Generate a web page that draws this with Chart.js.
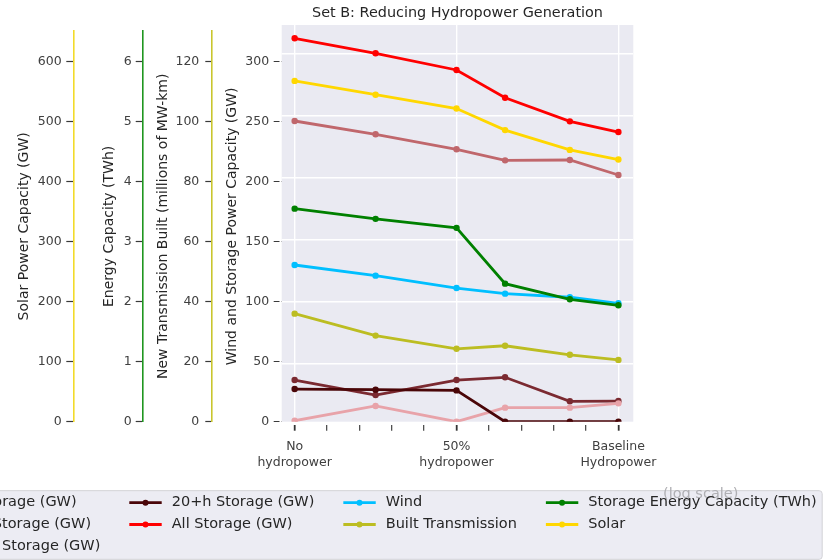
<!DOCTYPE html>
<html>
<head>
<meta charset="utf-8">
<script src="https://cdn.jsdelivr.net/npm/chart.js@4.4.1/dist/chart.umd.min.js"></script>
<style>
  html, body { margin: 0; padding: 0; background: #ffffff; overflow: hidden; }
  #wrap { position: relative; width: 827px; height: 560px; }
</style>
</head>
<body>
<div id="wrap"><canvas id="chart" width="827" height="560"></canvas></div>
<script>
// Share of baseline hydropower generation kept in each scenario (%)
const hydroShare = [0, 25, 50, 65, 85, 100];
const xTickValues = [0, 50, 100];
const xTickLabels = [['No', 'hydropower'], ['50%', 'hydropower'], ['Baseline', 'Hydropower']];

// Storage power capacity by duration class (GW)
const storage4h = [250.6, 239.5, 227.0, 217.8, 218.1, 205.6];
const storage4to8h = [34.7, 22.2, 34.7, 37.0, 17.0, 17.2];
const storage8to20h = [0.8, 13.1, 0.0, 11.7, 11.7, 15.3];
const storage20hPlus = [27.2, 26.7, 26.1, 0.0, 0.0, 0.0];
const storageAll = [319.5, 307.0, 293.1, 270.0, 250.3, 241.4];
// Wind capacity (GW)
const wind = [130.6, 121.7, 111.4, 106.7, 103.7, 98.7];
// New transmission (millions of MW-km)
const builtTransmission = [36.0, 28.7, 24.3, 25.3, 22.3, 20.6];
// Storage energy capacity (TWh)
const storageEnergy = [3.55, 3.38, 3.23, 2.30, 2.04, 1.94];
// Solar capacity (GW)
const solar = [568, 545, 522, 486, 453, 437];

const FONT = "'DejaVu Sans', 'Liberation Sans', sans-serif";
const TEXT = '#262626';
const TICK_TEXT = '#404040';

const series = [
  { label: '4h Storage (GW)', values: storage4h, color: '#c0676c', axis: 'y' },
  { label: '4-8h Storage (GW)', values: storage4to8h, color: '#7b2a31', axis: 'y' },
  { label: '8-20h Storage (GW)', values: storage8to20h, color: '#e8a3a9', axis: 'y' },
  { label: '20+h Storage (GW)', values: storage20hPlus, color: '#4a0608', axis: 'y' },
  { label: 'All Storage (GW)', values: storageAll, color: '#ff0000', axis: 'y' },
  { label: 'Wind', values: wind, color: '#00bfff', axis: 'y' },
  { label: 'Built Transmission', values: builtTransmission, color: '#bcbd22', axis: 'yT' },
  { label: 'Storage Energy Capacity (TWh)', values: storageEnergy, color: '#008000', axis: 'yE' },
  { label: 'Solar', values: solar, color: '#ffd700', axis: 'yS' }
];

const datasets = series.map((s, i) => ({
  label: s.label,
  data: hydroShare.map((x, j) => ({ x: x, y: s.values[j] })),
  borderColor: s.color,
  backgroundColor: s.color,
  yAxisID: s.axis,
  borderWidth: 2.8,
  pointRadius: 3.2,
  pointBorderWidth: 0,
  pointHoverRadius: 3.2,
  tension: 0,
  order: series.length - i
}));

// grey plot face
const plotBackground = {
  id: 'plotBackground',
  beforeDraw(chart) {
    const { ctx, chartArea: a } = chart;
    ctx.save();
    ctx.fillStyle = '#eaeaf2';
    ctx.fillRect(a.left, a.top, a.width, a.height);
    ctx.restore();
  }
};

// the value axes sit slightly lower than the grey host frame
const twinAxesInset = {
  id: 'twinAxesInset',
  afterLayout(chart) {
    for (const id of ['y', 'yT', 'yE', 'yS']) {
      const s = chart.scales[id];
      s.top = chart.chartArea.top + 6;
      s.height = s.bottom - s.top;
      s.configure();
    }
  }
};

// matplotlib-style legend in four columns below the plot
const bottomLegend = {
  id: 'bottomLegend',
  afterDraw(chart) {
    const ctx = chart.ctx;
    ctx.save();
    ctx.font = '14.5px ' + FONT;
    ctx.textBaseline = 'middle';

    const items = chart.data.datasets.map(d => ({ label: d.label, color: d.borderColor }));
    const nCols = 4;
    const nRows = Math.ceil(items.length / nCols);
    const big = items.length % nCols;
    const cols = [];
    let k = 0;
    for (let c = 0; c < nCols; c++) {
      const n = (big === 0 || c < big) ? nRows : nRows - 1;
      cols.push(items.slice(k, k + n));
      k += n;
    }
    const handleLen = 32.4, handlePad = 10, colGap = 29;
    const widths = cols.map(col => Math.max(...col.map(it => ctx.measureText(it.label).width)));
    const xs = [];
    xs[1] = 129.3;
    xs[0] = xs[1] - colGap - widths[0] - handlePad - handleLen;
    for (let c = 2; c < nCols; c++) xs[c] = xs[c - 1] + handleLen + handlePad + widths[c - 1] + colGap;
    const boxLeft = xs[0] - 6;
    const boxRight = xs[nCols - 1] + handleLen + handlePad + widths[nCols - 1] + 5.5;
    const boxTop = 490.7, boxBottom = 559.3;

    ctx.beginPath();
    ctx.roundRect(boxLeft, boxTop, boxRight - boxLeft, boxBottom - boxTop, 3);
    ctx.fillStyle = 'rgba(234,234,242,0.9)';
    ctx.fill();
    ctx.lineWidth = 1;
    ctx.strokeStyle = '#d2d2d6';
    ctx.stroke();

    // faint axis note that shows across the legend frame
    ctx.fillStyle = '#b0b0b4';
    ctx.fillText('(log scale)', 663, 494.5);

    const rowY = [502.7, 524.5, 546.3];
    cols.forEach((col, c) => {
      col.forEach((it, r) => {
        const y = rowY[r];
        const x = xs[c];
        ctx.strokeStyle = it.color;
        ctx.lineWidth = 2.8;
        ctx.beginPath();
        ctx.moveTo(x, y);
        ctx.lineTo(x + handleLen, y);
        ctx.stroke();
        ctx.fillStyle = it.color;
        ctx.beginPath();
        ctx.arc(x + handleLen / 2, y, 3, 0, Math.PI * 2);
        ctx.fill();
        ctx.fillStyle = TEXT;
        ctx.fillText(it.label, x + handleLen + handlePad, y);
      });
    });
    ctx.restore();
  }
};

const tickFont = { family: FONT, size: 12.5 };
const titleFont = { family: FONT, size: 14 };

function valueAxis(opts) {
  return {
    type: 'linear',
    position: 'left',
    weight: opts.weight,
    min: 0,
    max: opts.max,
    afterFit: s => { s.width = opts.width; },
    border: opts.spine ? { display: true, color: opts.spine, width: 1.6 } : { display: false },
    grid: {
      display: true,
      drawOnChartArea: false,
      drawTicks: true,
      tickLength: opts.tickLength || 7,
      tickColor: '#3a3a3a',
      tickWidth: 1.2,
      tickBorderDash: opts.tickDash || []
    },
    ticks: {
      stepSize: opts.step,
      includeBounds: false,
      padding: opts.pad,
      font: tickFont,
      color: TICK_TEXT
    },
    title: {
      display: true,
      text: opts.title,
      font: titleFont,
      color: TEXT,
      padding: { top: opts.titlePad, bottom: 0 }
    }
  };
}

new Chart(document.getElementById('chart'), {
  type: 'line',
  data: { datasets: datasets },
  plugins: [plotBackground, twinAxesInset, bottomLegend],
  options: {
    responsive: false,
    animation: false,
    layout: { padding: { left: 0, right: 193.7, top: 0, bottom: 78.3 } },
    plugins: {
      legend: { display: false },
      tooltip: { enabled: false },
      title: {
        display: true,
        fullSize: false,
        text: 'Set B: Reducing Hydropower Generation',
        font: { family: FONT, size: 14.4, weight: 'normal' },
        color: TEXT,
        padding: { top: 4.5, bottom: 3.22 }
      }
    },
    scales: {
      x: {
        type: 'linear',
        position: 'bottom',
        min: -4,
        max: 104.6,
        afterFit: s => { s.height = 60; },
        border: { display: false },
        grid: {
          display: true,
          drawOnChartArea: true,
          color: c => (c.tick && xTickValues.includes(c.tick.value)) ? '#ffffff' : 'rgba(0,0,0,0)',
          lineWidth: 1.4,
          drawTicks: true,
          tickLength: 9,
          tickColor: '#333333',
          tickWidth: c => (c.tick && xTickValues.includes(c.tick.value)) ? 1.8 : 1.1,
          tickBorderDash: [6, 3],
          tickBorderDashOffset: 6
        },
        ticks: {
          stepSize: 10,
          includeBounds: false,
          autoSkip: false,
          maxRotation: 0,
          padding: 8,
          font: { family: FONT, size: 12.5, lineHeight: 1.3 },
          color: TICK_TEXT,
          callback: v => {
            const k = xTickValues.indexOf(v);
            return k < 0 ? '' : xTickLabels[k];
          }
        }
      },
      yg: {
        type: 'linear',
        position: 'right',
        min: 2.9,
        max: 322.8,
        afterFit: s => { s.width = 0; },
        border: { display: false },
        grid: { display: true, drawOnChartArea: true, drawTicks: false, color: '#ffffff', lineWidth: 1.4 },
        ticks: { display: false, stepSize: 50, includeBounds: false }
      },
      y: valueAxis({ weight: 1, max: 325.6, width: 69.4, step: 50, pad: 4.5, titlePad: 11.8,
        title: 'Wind and Storage Power Capacity (GW)', tickLength: 8, tickDash: [5.8, 2.2] }),
      yT: valueAxis({ weight: 2, max: 130.2, width: 69.6, step: 20, pad: 6, titlePad: 11.9,
        title: 'New Transmission Built (millions of MW-km)', spine: '#c9c62e' }),
      yE: valueAxis({ weight: 3, max: 6.51, width: 69.4, step: 1, pad: 4, titlePad: 27.3,
        title: 'Energy Capacity (TWh)', spine: '#1f961f' }),
      yS: valueAxis({ weight: 4, max: 651.2, width: 73.3, step: 100, pad: 4.6, titlePad: 15.6,
        title: 'Solar Power Capacity (GW)', spine: '#f2db2a' })
    }
  }
});
</script>
</body>
</html>
